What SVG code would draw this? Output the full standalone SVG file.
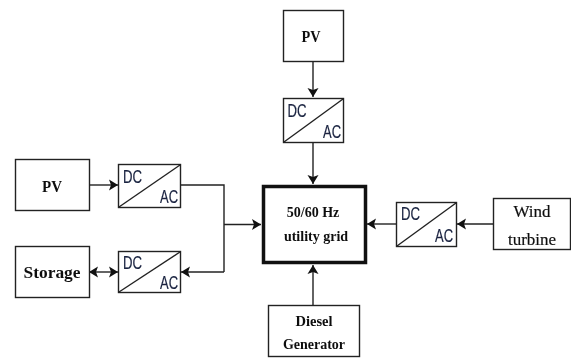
<svg xmlns="http://www.w3.org/2000/svg" width="571" height="358" viewBox="0 0 571 358">
<defs>
<marker id="a" markerUnits="userSpaceOnUse" markerWidth="10" markerHeight="12" refX="9" refY="6" orient="auto-start-reverse"><path d="M0 0.500L9 6L0 11.500L2 6Z" fill="#111"/></marker>
<filter id="s" x="-10%" y="-20%" width="120%" height="140%"><feGaussianBlur stdDeviation="0.4"/></filter>
</defs>
<style>
.b{fill:#fff;stroke:#222;stroke-width:1.4}
.c{fill:none;stroke:#222;stroke-width:1.4}
.l{fill:none;stroke:#222;stroke-width:1.4;marker-end:url(#a)}
text{filter:url(#s)}
.t{font-family:"Liberation Serif",serif;font-weight:bold;font-size:14px;fill:#111;text-anchor:middle}
.w{font-size:17px;font-weight:normal;stroke:#111;stroke-width:0.2}
.d{font-family:"Liberation Sans",sans-serif;font-size:19px;fill:#1a2340;stroke:#1a2340;stroke-width:0.2;text-anchor:middle}
</style>
<rect width="571" height="358" fill="#fff"/>
<g id="connectors">
<path class="l" d="M313 61V97"/>
<path class="l" d="M313 143V184"/>
<path class="l" d="M89 185H118"/>
<path class="c" d="M180 185H224V272"/>
<path class="l" d="M224 272H181"/>
<path class="l" d="M224 224.500H261"/>
<path class="l" d="M89 272H118" style="marker-start:url(#a)"/>
<path class="l" d="M396 224H367"/>
<path class="l" d="M493 224H457"/>
<path class="l" d="M313 306V265"/>
</g>
<g id="pv-top"><rect class="b" x="283.500" y="10.500" width="60" height="51"/><text class="t" x="311" y="41.500" style="font-size:16px" textLength="19" lengthAdjust="spacingAndGlyphs">PV</text></g>
<g id="dc-top"><rect class="b" x="283.500" y="98.500" width="60" height="44"/><path class="c" d="M284 142L343 99"/><text class="d" x="297" y="117" textLength="19" lengthAdjust="spacingAndGlyphs">DC</text><text class="d" x="332" y="138" textLength="18" lengthAdjust="spacingAndGlyphs">AC</text></g>
<g id="pv-left"><rect class="b" x="15.500" y="159.500" width="74" height="51"/><text class="t" x="52" y="192" style="font-size:16px" textLength="20" lengthAdjust="spacingAndGlyphs">PV</text></g>
<g id="dc-left1"><rect class="b" x="118.500" y="164.500" width="62" height="43"/><path class="c" d="M119 207L180 165"/><text class="d" x="132.500" y="183" textLength="19" lengthAdjust="spacingAndGlyphs">DC</text><text class="d" x="169" y="203" textLength="18" lengthAdjust="spacingAndGlyphs">AC</text></g>
<g id="storage"><rect class="b" x="15.500" y="246.500" width="74" height="51"/><text class="t" x="52" y="278" style="font-size:16px" textLength="57" lengthAdjust="spacingAndGlyphs">Storage</text></g>
<g id="dc-left2"><rect class="b" x="118.500" y="251.500" width="62" height="41"/><path class="c" d="M119 292L180 252"/><text class="d" x="132.500" y="269" textLength="19" lengthAdjust="spacingAndGlyphs">DC</text><text class="d" x="169" y="289" textLength="18" lengthAdjust="spacingAndGlyphs">AC</text></g>
<g id="grid"><rect x="263.500" y="186.500" width="102" height="76" fill="#fff" stroke="#111" stroke-width="3.500"/><text class="t" x="313" y="217">50/60 Hz</text><text class="t" x="316" y="241">utility grid</text></g>
<g id="dc-right"><rect class="b" x="396.500" y="202.500" width="60" height="44"/><path class="c" d="M397 246L456 203"/><text class="d" x="410.500" y="220" textLength="19" lengthAdjust="spacingAndGlyphs">DC</text><text class="d" x="444" y="242" textLength="18" lengthAdjust="spacingAndGlyphs">AC</text></g>
<g id="wind"><rect class="b" x="493.500" y="198.500" width="77" height="51"/><text class="t w" x="532" y="217">Wind</text><text class="t w" x="532" y="245">turbine</text></g>
<g id="diesel"><rect class="b" x="268.500" y="305.500" width="91" height="51"/><text class="t" x="314" y="326" style="font-size:14.500px">Diesel</text><text class="t" x="314" y="349">Generator</text></g>
</svg>
